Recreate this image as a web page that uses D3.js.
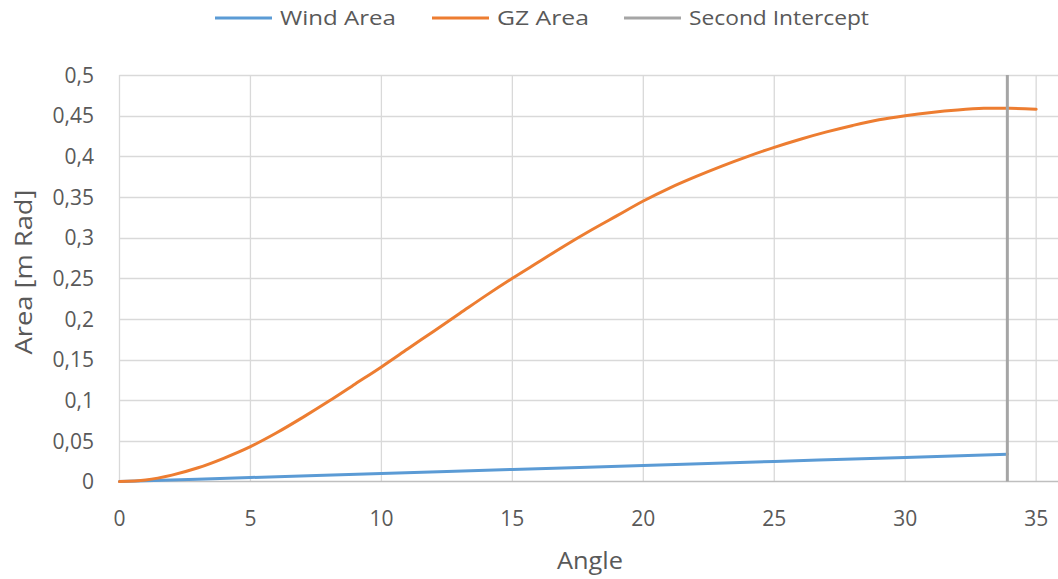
<!DOCTYPE html>
<html>
<head>
<meta charset="utf-8">
<script src="https://cdn.jsdelivr.net/npm/d3@7"></script>
<style>
  html, body { margin: 0; padding: 0; background: #fff; }
  svg { display: block; font-family: "Open Sans", "Noto Sans", sans-serif; }
</style>
</head>
<body>
<svg id="chart" width="1058" height="579"></svg>
<script>
// Heel angle (degrees) and cumulative areas (m·rad)
const gzAngles = [0,1,2,3,4,5,6,7,8,9,10,11,12,13,14,15,16,17,18,19,20,21,22,23,24,25,26,27,28,29,30,31,32,33,34,35];
const gzArea   = [0,0.002,0.008,0.017,0.029,0.043,0.060,0.079,0.099,0.120,0.141,0.163,0.185,0.207,0.229,0.250,
                  0.270,0.290,0.309,0.327,0.345,0.361,0.375,0.388,0.400,0.411,0.421,0.430,0.438,0.445,0.450,
                  0.454,0.457,0.459,0.459,0.458];
const windAngles = [0,5,10,15,20,25,30,33.9];
const windArea   = [0,0.005,0.0099,0.0149,0.0198,0.0248,0.0297,0.0336];
const interceptAngles = [33.9, 33.9];
const interceptArea   = [0, 0.5];

const xTicks = [0,5,10,15,20,25,30,35];
const yTicks = [0,0.05,0.1,0.15,0.2,0.25,0.3,0.35,0.4,0.45,0.5];

const seriesNames  = ["Wind Area", "GZ Area", "Second Intercept"];
const seriesColors = ["#5B9BD5", "#ED7D31", "#A5A5A5"];

const svg = d3.select("#chart");
const W = 1058, H = 579;
const plot = { left: 119.5, top: 75, bottom: 481.6 };

// x axis runs to 40, the right part falls outside the drawing
const x = d3.scaleLinear().domain([0, 40]).range([plot.left, plot.left + 40 * 26.19]);
const y = d3.scaleLinear().domain([0, 0.5]).range([plot.bottom, plot.top]);

svg.append("defs").append("clipPath").attr("id", "clip")
  .append("rect").attr("x", 0).attr("y", 0).attr("width", W).attr("height", H);

const g = svg.append("g").attr("clip-path", "url(#clip)");

// horizontal gridlines
g.append("g").selectAll("line").data(yTicks.filter(d => d > 0)).join("line")
  .attr("x1", x(0)).attr("x2", x(40))
  .attr("y1", d => Math.round(y(d)) + 0.5).attr("y2", d => Math.round(y(d)) + 0.5)
  .attr("stroke", "#d9d9d9").attr("stroke-width", 1.3);

// vertical gridlines
g.append("g").selectAll("line").data(xTicks).join("line")
  .attr("x1", d => x(d)).attr("x2", d => x(d))
  .attr("y1", y(0.5)).attr("y2", y(0))
  .attr("stroke", "#d9d9d9").attr("stroke-width", 1.3);

// bottom axis line
g.append("line")
  .attr("x1", x(0)).attr("x2", x(40))
  .attr("y1", y(0)).attr("y2", y(0))
  .attr("stroke", "#bfbfbf").attr("stroke-width", 1.5);

// tick labels
const fmt = d => String(d).replace(".", ",");
svg.append("g").selectAll("text").data(yTicks).join("text")
  .attr("x", 94).attr("y", d => y(d)).attr("dy", "0.36em")
  .attr("text-anchor", "end").attr("font-size", 21).attr("fill", "#595959")
  .text(fmt);

svg.append("g").selectAll("text").data(xTicks).join("text")
  .attr("x", d => x(d)).attr("y", 526)
  .attr("text-anchor", "middle").attr("font-size", 21).attr("fill", "#595959")
  .text(fmt);

// axis titles
svg.append("text")
  .attr("x", 590).attr("y", 569)
  .attr("text-anchor", "middle").attr("font-size", 23).attr("fill", "#595959")
  .attr("textLength", 66).attr("lengthAdjust", "spacingAndGlyphs")
  .text("Angle");

svg.append("text")
  .attr("transform", "translate(32,272) rotate(-90)")
  .attr("text-anchor", "middle").attr("font-size", 23).attr("fill", "#595959")
  .attr("textLength", 165).attr("lengthAdjust", "spacingAndGlyphs")
  .text("Area [m Rad]");

// series
const line = d3.line().x(d => x(d[0])).y(d => y(d[1]));
const smooth = d3.line().x(d => x(d[0])).y(d => y(d[1])).curve(d3.curveCatmullRom.alpha(0.5));

g.append("path")
  .datum(windAngles.map((a, i) => [a, windArea[i]]))
  .attr("d", smooth).attr("fill", "none")
  .attr("stroke", seriesColors[0]).attr("stroke-width", 3).attr("stroke-linecap", "round");

g.append("path")
  .datum(gzAngles.map((a, i) => [a, gzArea[i]]))
  .attr("d", smooth).attr("fill", "none")
  .attr("stroke", seriesColors[1]).attr("stroke-width", 3).attr("stroke-linecap", "round");

g.append("path")
  .datum(interceptAngles.map((a, i) => [a, interceptArea[i]]))
  .attr("d", line).attr("fill", "none")
  .attr("stroke", seriesColors[2]).attr("stroke-width", 3);

// legend
const legendX = [215, 432, 624];
const legendTextLen = [116, 92, 180];
const leg = svg.append("g").selectAll("g").data(seriesNames).join("g")
  .attr("transform", (d, i) => `translate(${legendX[i]},18)`);
leg.append("line").attr("x1", 0).attr("x2", 57).attr("y1", 0).attr("y2", 0)
  .attr("stroke", (d, i) => seriesColors[i]).attr("stroke-width", 3);
leg.append("text").attr("x", 65).attr("dy", "0.35em")
  .attr("font-size", 20).attr("fill", "#595959")
  .attr("textLength", (d, i) => legendTextLen[i]).attr("lengthAdjust", "spacingAndGlyphs")
  .text(d => d);
</script>
</body>
</html>
